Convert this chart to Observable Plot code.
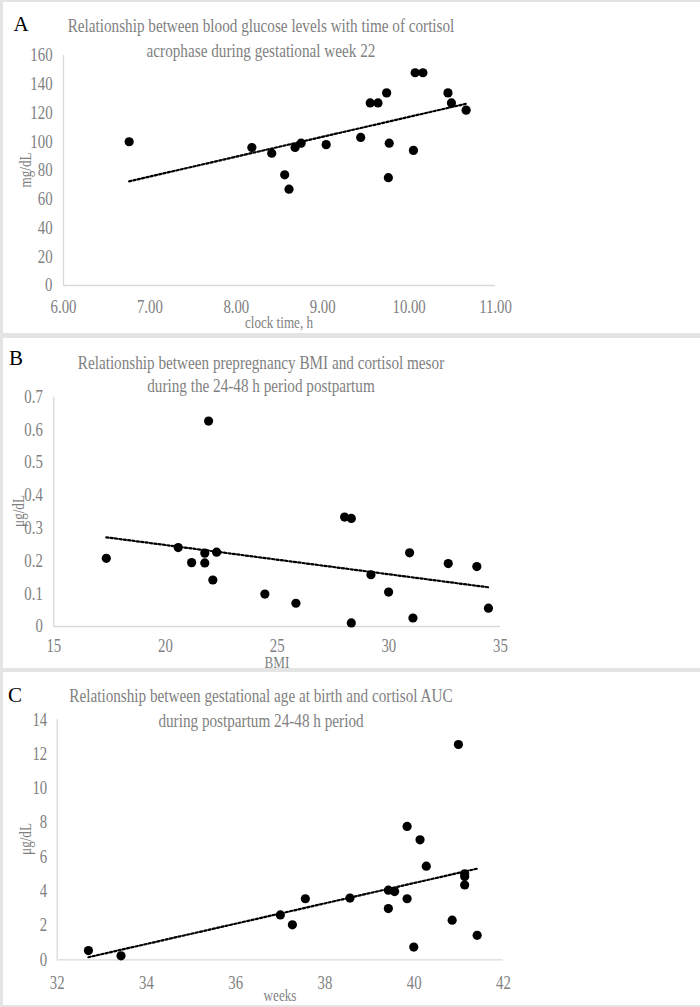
<!DOCTYPE html>
<html><head><meta charset="utf-8">
<script src="https://cdn.jsdelivr.net/npm/d3@7"></script>
<script src="https://cdn.jsdelivr.net/npm/@observablehq/plot@0.6"></script>
<style>
body{margin:0;background:#fff;}
#wrap{position:relative;width:700px;height:1007px;background:#e4e4e4;overflow:hidden;font-family:"Liberation Serif","Times New Roman",serif;}
.panel{position:absolute;left:3px;width:697px;background:#fff;}
.box{position:absolute;left:0;}
.ov{position:absolute;white-space:nowrap;line-height:1;}
.letter{color:#000;font-size:21px;transform:translate(-50%,-50%);}
.title{color:#7f7f7f;font-size:19px;transform:translate(-50%,-50%) scaleX(0.8);}
.xl{color:#7f7f7f;font-size:16px;transform:translate(-50%,-50%) scaleX(0.82);}
.yl{color:#7f7f7f;font-size:16px;transform:translate(-50%,-50%) rotate(-90deg) scaleX(0.82);}
</style></head>
<body><div id="wrap"></div>
<script>
// Panel A: blood glucose vs clock time of cortisol acrophase
const aClock = [6.76, 8.18, 8.41, 8.56, 8.61, 8.68, 8.75, 9.04, 9.44, 9.55, 9.64, 9.74, 9.76, 9.77, 10.05, 10.07, 10.16, 10.45, 10.49, 10.66];
const aGlucose = [100, 96, 92, 77, 67, 96, 99, 98, 103, 127, 127, 134, 75, 99, 94, 148, 148, 134, 127, 122];
const aXTicks = [6, 7, 8, 9, 10, 11];
const aYTicks = [0, 20, 40, 60, 80, 100, 120, 140, 160];

// Panel B: prepregnancy BMI vs cortisol mesor
const bBMI = [17.35, 20.57, 21.17, 21.76, 21.76, 21.93, 22.12, 22.29, 24.45, 25.84, 28.02, 28.32, 28.32, 29.2, 29.99, 30.93, 31.08, 32.66, 33.94, 34.46];
const bMesor = [0.208, 0.241, 0.195, 0.224, 0.194, 0.627, 0.142, 0.227, 0.099, 0.071, 0.334, 0.33, 0.011, 0.158, 0.105, 0.225, 0.026, 0.192, 0.183, 0.056];
const bXTicks = [15, 20, 25, 30, 35];
const bYTicks = [0, 0.1, 0.2, 0.3, 0.4, 0.5, 0.6, 0.7];

// Panel C: gestational age at birth vs cortisol AUC
const cWeeks = [32.70, 33.43, 37.0, 37.27, 37.56, 38.56, 39.42, 39.42, 39.56, 39.84, 39.84, 39.99, 40.13, 40.27, 40.85, 40.99, 41.13, 41.13, 41.13, 41.41];
const cAUC = [0.54, 0.23, 2.62, 2.04, 3.56, 3.6, 4.06, 2.99, 3.98, 3.56, 7.78, 0.74, 7.0, 5.46, 2.31, 12.56, 5.02, 4.86, 4.37, 1.43];
const cXTicks = [32, 34, 36, 38, 40, 42];
const cYTicks = [0, 2, 4, 6, 8, 10, 12, 14];

const wrap = document.getElementById("wrap");
function ov(cls, text, x, y) {
  const d = document.createElement("div");
  d.className = "ov " + cls;
  d.textContent = text;
  d.style.left = x + "px";
  d.style.top = y + "px";
  wrap.appendChild(d);
}

function panel(o) {
  const pd = document.createElement("div");
  pd.className = "panel";
  pd.style.top = o.top + "px";
  pd.style.height = o.height + "px";
  wrap.appendChild(pd);
  const data = o.xs.map((v, i) => ({x: v, y: o.ys[i]}));
  const chart = Plot.plot({
    width: 700, height: o.height,
    marginLeft: o.mL, marginRight: o.mR, marginTop: o.mT, marginBottom: o.mB,
    x: {domain: o.xdom}, y: {domain: o.ydom},
    style: {fontFamily: "Liberation Serif, serif", fontSize: "18px", color: "#808080", background: "transparent", overflow: "visible"},
    marks: [
      Plot.ruleX([o.xdom[0]], {stroke: "#d9d9d9", strokeWidth: 1.3}),
      Plot.ruleY([o.ydom[0]], {stroke: "#d9d9d9", strokeWidth: 1.3}),
      Plot.axisX(o.xticks, {tickSize: 0, tickPadding: o.xpad, tickFormat: o.xfmt, label: null, fontSize: 18}),
      Plot.axisY(o.yticks, {tickSize: 0, tickPadding: o.ypad, tickFormat: o.yfmt, label: null, fontSize: 18}),
      Plot.linearRegressionY(data, {x: "x", y: "y", ci: 0, stroke: "#000", strokeWidth: 2.2, strokeDasharray: "2.2,2.2"}),
      Plot.dot(data, {x: "x", y: "y", r: 4.6, fill: "#000", stroke: "none"})
    ]
  });
  chart.classList.add("box");
  chart.style.top = o.top + "px";
  wrap.appendChild(chart);
  // serif, slightly condensed tick labels like the reference
  chart.querySelectorAll("text").forEach(t => {
    t.style.fontFamily = '"Liberation Serif", serif';
    t.style.fontSize = "18px";
    const len = t.getComputedTextLength();
    if (len > 0) {
      t.setAttribute("textLength", (len * 0.82).toFixed(2));
      t.setAttribute("lengthAdjust", "spacingAndGlyphs");
    }
  });
}

const f2 = d3.format(".2f");
const fg = d => String(d);

panel({top: 2, height: 331, xs: aClock, ys: aGlucose, xdom: [6, 11], ydom: [0, 160],
  xticks: aXTicks, yticks: aYTicks, xfmt: f2, yfmt: fg,
  mL: 63, mR: 205, mT: 53, mB: 48, xpad: 14.5, ypad: 11});
panel({top: 338, height: 330, xs: bBMI, ys: bMesor, xdom: [15, 35], ydom: [0, 0.7],
  xticks: bXTicks, yticks: bYTicks, xfmt: fg, yfmt: fg,
  mL: 53.3, mR: 200, mT: 58.7, mB: 42, xpad: 13, ypad: 11});
panel({top: 672, height: 333, xs: cWeeks, ys: cAUC, xdom: [32, 42], ydom: [0, 14],
  xticks: cXTicks, yticks: cYTicks, xfmt: fg, yfmt: fg,
  mL: 56.7, mR: 197, mT: 47.3, mB: 45.7, xpad: 16.5, ypad: 10});

// Letters
ov("letter", "A", 21, 24);
ov("letter", "B", 16, 358);
ov("letter", "C", 15, 695);
// Titles
ov("title", "Relationship between blood glucose levels with time of cortisol", 261, 25);
ov("title", "acrophase during gestational week 22", 261, 50);
ov("title", "Relationship between prepregnancy BMI and cortisol mesor", 261, 362);
ov("title", "during the 24-48 h period postpartum", 261, 385);
ov("title", "Relationship between gestational age at birth and cortisol AUC", 261, 695);
ov("title", "during postpartum 24-48 h period", 261, 720);
// Axis labels
ov("xl", "clock time, h", 279, 323);
ov("yl", "mg/dL", 26, 170);
ov("xl", "BMI", 277, 663);
ov("yl", "μg/dL", 19, 511);
ov("xl", "weeks", 280, 996);
ov("yl", "μg/dL", 26, 839);
</script></body></html>
